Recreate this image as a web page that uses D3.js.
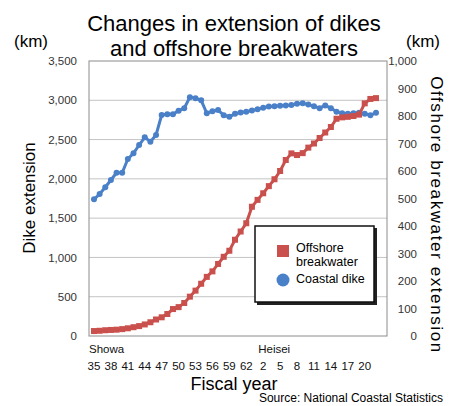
<!DOCTYPE html>
<html>
<head>
<meta charset="utf-8">
<script src="https://cdn.jsdelivr.net/npm/d3@7"></script>
<style>
  body { margin: 0; background: #fff; }
  svg { font-family: "Liberation Sans", Arial, sans-serif; }
</style>
</head>
<body>
<div id="chart"></div>
<script>
// fiscal years 1960 (Showa 35) .. 2010 (Heisei 22)
var years = d3.range(1960, 2011);

// coastal dike extension (km, left axis)
var dikeValues = [1740, 1807, 1893, 1985, 2078, 2078, 2253, 2325, 2431, 2529,
                  2473, 2558, 2813, 2822, 2822, 2868, 2898, 3040, 3025, 3000,
                  2835, 2860, 2876, 2810, 2790, 2830, 2845, 2855, 2870, 2885,
                  2905, 2920, 2925, 2930, 2935, 2940, 2955, 2962, 2945, 2925,
                  2900, 2935, 2900, 2855, 2835, 2830, 2835, 2840, 2830, 2810,
                  2840];

// offshore breakwater extension (km, right axis)
var breakwaterValues = [18, 19, 21, 22, 23, 25, 28, 32, 36, 42,
                        50, 60, 68, 80, 98, 105, 120, 143, 165, 190,
                        215, 235, 262, 288, 310, 350, 380, 410, 470, 495,
                        519, 545, 570, 600, 640, 664, 658, 665, 685, 700,
                        720, 740, 760, 790, 795, 797, 800, 805, 846, 862,
                        865];

var leftTicks = d3.range(0, 3501, 500);
var rightTicks = d3.range(0, 1001, 100);
var tickYears = [1960, 1963, 1966, 1969, 1972, 1975, 1978, 1981, 1984, 1987,
                 1990, 1993, 1996, 1999, 2002, 2005, 2008];
var tickLabels = ["35", "38", "41", "44", "47", "50", "53", "56", "59", "62",
                  "2", "5", "8", "11", "14", "17", "20"];
var eras = [{name: "Showa", year: 1960}, {name: "Heisei", year: 1990}];

var W = 453, H = 406;
var margin = {top: 61, right: 66, bottom: 70, left: 89};
var width = W - margin.left - margin.right;
var height = H - margin.top - margin.bottom;

var blue = "#4a80c8", red = "#c9504c";

var svg = d3.select("#chart").append("svg")
    .attr("width", W)
    .attr("height", H);

// title
svg.append("text")
    .attr("x", 234).attr("y", 31)
    .attr("text-anchor", "middle")
    .style("font-size", "22px")
    .text("Changes in extension of dikes");
svg.append("text")
    .attr("x", 234).attr("y", 56)
    .attr("text-anchor", "middle")
    .style("font-size", "22px")
    .text("and offshore breakwaters");

svg.append("text").attr("x", 14).attr("y", 47)
    .style("font-size", "17px").text("(km)");
svg.append("text").attr("x", 406).attr("y", 47)
    .style("font-size", "17px").text("(km)");

var g = svg.append("g")
    .attr("transform", "translate(" + margin.left + "," + margin.top + ")");

var x = d3.scalePoint().domain(years).range([5, 287]);
var yL = d3.scaleLinear().domain([0, 3500]).range([height, 0]);
var yR = d3.scaleLinear().domain([0, 1000]).range([height, 0]);

// gridlines
g.selectAll(".grid").data(leftTicks.slice(1, -1)).enter().append("line")
    .attr("x1", 0).attr("x2", width)
    .attr("y1", function(d) { return yL(d); })
    .attr("y2", function(d) { return yL(d); })
    .attr("stroke", "#c4c4c4").attr("stroke-width", 1);

g.append("rect")
    .attr("x", 0).attr("y", 0)
    .attr("width", width).attr("height", height)
    .attr("fill", "none").attr("stroke", "#8c8c8c").attr("stroke-width", 1);

// left axis labels
var leftAxis = g.append("g")
    .call(d3.axisLeft(yL).tickValues(leftTicks).tickSize(0).tickPadding(12).tickFormat(d3.format(",")));
leftAxis.select(".domain").remove();
leftAxis.selectAll("text").style("font-size", "11.5px").attr("fill", "#333")
    .style("font-family", "Liberation Sans, Arial, sans-serif");

var rightAxis = g.append("g")
    .attr("transform", "translate(" + width + ",0)")
    .call(d3.axisRight(yR).tickValues(rightTicks).tickSize(0).tickPadding(0).tickFormat(d3.format(",")));
rightAxis.select(".domain").remove();
rightAxis.selectAll("text")
    .attr("text-anchor", "end").attr("x", 30)
    .style("font-size", "11.5px").attr("fill", "#333")
    .style("font-family", "Liberation Sans, Arial, sans-serif");

// x labels
g.selectAll(".xt").data(tickYears).enter().append("text")
    .attr("x", function(d) { return x(d); })
    .attr("y", height + 34)
    .attr("text-anchor", "middle")
    .style("font-size", "11.5px").attr("fill", "#111")
    .text(function(d, i) { return tickLabels[i]; });
g.selectAll(".era").data(eras).enter().append("text")
    .attr("x", function(d) { return x(d.year) - 5; })
    .attr("y", height + 17)
    .style("font-size", "11.5px").attr("fill", "#111")
    .text(function(d) { return d.name; });

// axis titles
svg.append("text")
    .attr("transform", "translate(35,198) rotate(-90)")
    .attr("text-anchor", "middle")
    .style("font-size", "17px")
    .text("Dike extension");
svg.append("text")
    .attr("transform", "translate(431,215) rotate(90)")
    .attr("text-anchor", "middle")
    .style("font-size", "17px")
    .style("letter-spacing", "1.6px")
    .text("Offshore breakwater extension");
svg.append("text")
    .attr("x", 234).attr("y", 390)
    .attr("text-anchor", "middle")
    .style("font-size", "18px")
    .text("Fiscal year");
svg.append("text")
    .attr("x", 443).attr("y", 402)
    .attr("text-anchor", "end")
    .style("font-size", "12px")
    .text("Source: National  Coastal Statistics");

// series
var dikeLine = d3.line()
    .x(function(d, i) { return x(years[i]); })
    .y(function(d) { return yL(d); });
var bwLine = d3.line()
    .x(function(d, i) { return x(years[i]); })
    .y(function(d) { return yR(d); });

g.append("path").datum(dikeValues)
    .attr("d", dikeLine).attr("fill", "none")
    .attr("stroke", blue).attr("stroke-width", 3);
g.selectAll(".dk").data(dikeValues).enter().append("circle")
    .attr("cx", function(d, i) { return x(years[i]); })
    .attr("cy", function(d) { return yL(d); })
    .attr("r", 3).attr("fill", blue);

g.append("path").datum(breakwaterValues)
    .attr("d", bwLine).attr("fill", "none")
    .attr("stroke", red).attr("stroke-width", 3);
g.selectAll(".bw").data(breakwaterValues).enter().append("rect")
    .attr("x", function(d, i) { return x(years[i]) - 3; })
    .attr("y", function(d) { return yR(d) - 3; })
    .attr("width", 6).attr("height", 6).attr("fill", red);

// legend
var leg = svg.append("g").attr("transform", "translate(255,226)");
leg.append("rect").attr("x", 2).attr("y", 2).attr("width", 120).attr("height", 77).attr("fill", "#222");
leg.append("rect").attr("x", 0).attr("y", 0).attr("width", 119).attr("height", 76)
    .attr("fill", "#fff").attr("stroke", "#111").attr("stroke-width", 1.5);
leg.append("rect").attr("x", 22).attr("y", 19).attr("width", 12).attr("height", 12).attr("fill", red);
leg.append("circle").attr("cx", 28).attr("cy", 54).attr("r", 6.5).attr("fill", blue);
leg.append("text").attr("x", 41).attr("y", 26).style("font-size", "12.5px").text("Offshore");
leg.append("text").attr("x", 41).attr("y", 40).style("font-size", "12.5px").text("breakwater");
leg.append("text").attr("x", 41).attr("y", 57).style("font-size", "12.5px").text("Coastal dike");
</script>
</body>
</html>
